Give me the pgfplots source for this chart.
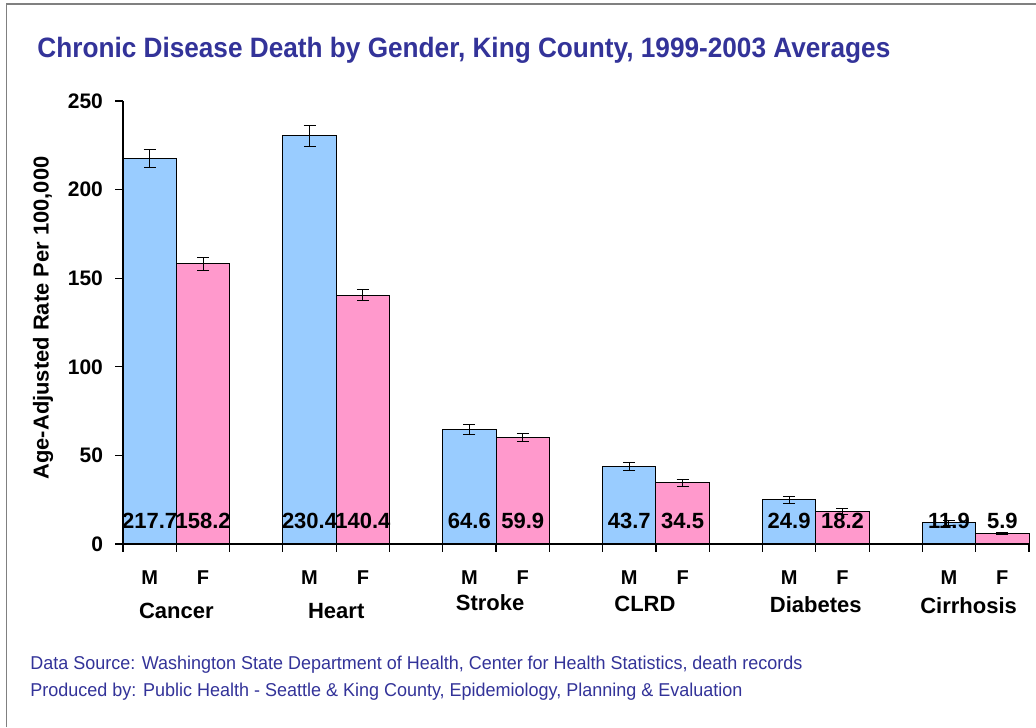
\documentclass[border=0pt]{standalone}
\usepackage{fontspec}
\setmainfont{Liberation Sans}
\usepackage{graphicx}
\usepackage{pgfplots}
\pgfplotsset{compat=1.18}
\definecolor{titleblue}{RGB}{51,51,153}
\definecolor{barblue}{RGB}{153,204,255}
\definecolor{barpink}{RGB}{255,153,204}
\begin{document}
\begin{tikzpicture}
\useasboundingbox (0,0) rectangle (518pt,363.5pt);
\fill[white] (0,0) rectangle (518pt,363.5pt);
\draw[gray, line width=0.6pt] (3.2pt,0) -- (3.2pt,361.5pt) -- (518pt,361.5pt);
% title
\node[anchor=west, inner sep=0, text=titleblue] at (18.5pt,338.5pt)
  {\resizebox{426.5pt}{\height}{\fontsize{14}{16}\selectfont\bfseries Chronic Disease Death by Gender, King County, 1999-2003 Averages}};
% y label
\node[rotate=90, inner sep=0] at (21.5pt,204.5pt)
  {\resizebox{161.5pt}{\height}{\fontsize{10.8}{12}\selectfont\bfseries Age-Adjusted Rate Per 100,000}};
% footer
\node[anchor=west, inner sep=0, text=titleblue] at (15pt,31pt)
  {\resizebox{386pt}{\height}{\fontsize{9.3}{11}\selectfont Data Source: Washington State Department of Health, Center for Health Statistics, death records}};
\node[anchor=west, inner sep=0, text=titleblue] at (15pt,17.5pt)
  {\resizebox{356pt}{\height}{\fontsize{9.3}{11}\selectfont Produced by: Public Health - Seattle \& King County, Epidemiology, Planning \& Evaluation}};

\begin{axis}[at={(61.5pt,91.5pt)}, anchor=south west,
  scale only axis, width=453pt, height=221.5pt,
  xmin=-0.334, xmax=5.334, ymin=0, ymax=250,
  axis x line*=bottom, axis y line*=left,
  axis line style={line width=0.6pt, -},
  tick align=outside, major tick length=4pt,
  tick style={black, line width=0.6pt},
  /pgf/number format/assume math mode=true,
  ytick={0,50,...,250},
  yticklabel style={font=\fontsize{10.5}{12}\selectfont\bfseries, xshift=-2.5pt},
  xtick={-0.334,0,0.334,0.666,1,1.334,1.666,2,2.334,2.666,3,3.334,3.666,4,4.334,4.666,5,5.334},
  xticklabels={,Cancer,,,Heart,,,\raisebox{4pt}{Stroke}\hspace*{6pt},,,\raisebox{3.5pt}{CLRD}\hspace*{11pt},,,\raisebox{2.5pt}{Diabetes},,,\raisebox{2pt}{Cirrhosis}\hspace*{7pt},},
  xticklabel style={font=\fontsize{11}{12}\selectfont\bfseries, anchor=base, yshift=-33pt},
  extra x ticks={-0.167,0.167,0.833,1.167,1.833,2.167,2.833,3.167,3.833,4.167,4.833,5.167},
  extra x tick labels={M,F,M,F,M,F,M,F,M,F,M,F},
  extra x tick style={major tick length=0pt, xticklabel style={yshift=13pt, font=\fontsize{10}{12}\selectfont\bfseries}},
  clip=false,
]
\addplot[ybar, bar width=0.334, bar shift=0, fill=barblue, draw=black, line width=0.5pt,
  visualization depends on={y \as \rawy},
  nodes near coords={\pgfmathprintnumber[fixed,fixed zerofill,precision=1]{\pgfplotspointmeta}},
  nodes near coords style={anchor=center, inner sep=0, font=\fontsize{11}{12}\selectfont\bfseries, shift={(axis direction cs:0,{13-\rawy})}},
  error bars/.cd, y dir=both, y explicit,
  error bar style={line width=0.5pt, black},
  error mark options={rotate=90, mark size=3pt, line width=0.5pt, black}]
coordinates {
(-0.167,217.7) +- (0,5.2)
(0.833,230.4) +- (0,5.8)
(1.833,64.6) +- (0,2.6)
(2.833,43.7) +- (0,2.5)
(3.833,24.9) +- (0,2.0)
(4.833,11.9) +- (0,1.2)
};
\addplot[ybar, bar width=0.334, bar shift=0, fill=barpink, draw=black, line width=0.5pt,
  visualization depends on={y \as \rawy},
  nodes near coords={\pgfmathprintnumber[fixed,fixed zerofill,precision=1]{\pgfplotspointmeta}},
  nodes near coords style={anchor=center, inner sep=0, font=\fontsize{11}{12}\selectfont\bfseries, shift={(axis direction cs:0,{13-\rawy})}},
  error bars/.cd, y dir=both, y explicit,
  error bar style={line width=0.5pt, black},
  error mark options={rotate=90, mark size=3pt, line width=0.5pt, black}]
coordinates {
(0.167,158.2) +- (0,3.7)
(1.167,140.4) +- (0,3.0)
(2.167,59.9) +- (0,2.2)
(3.167,34.5) +- (0,1.8)
(4.167,18.2) +- (0,1.6)
(5.167,5.9) +- (0,0.8)
};
\end{axis}
\end{tikzpicture}
\end{document}
